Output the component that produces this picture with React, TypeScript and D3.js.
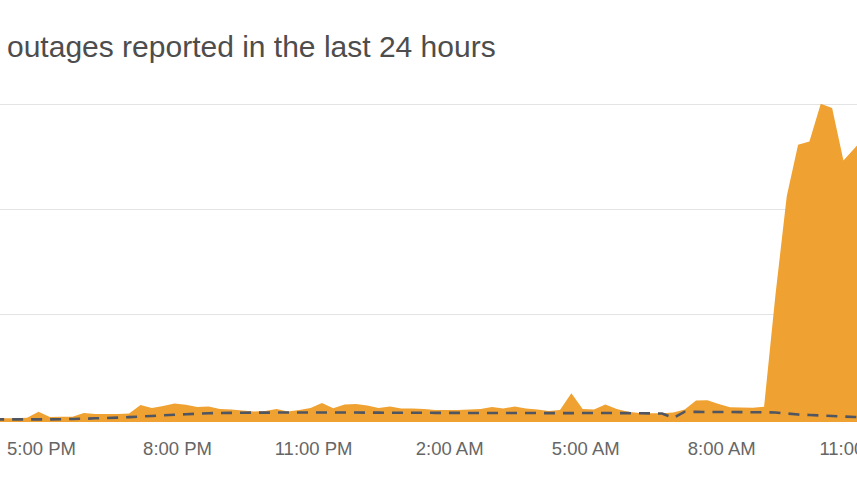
import React from "react";
import * as d3 from "d3";

// ---- data ----
const TITLE = "outages reported in the last 24 hours";
// first sample time and sampling step (minutes)
const firstSample = new Date(2024, 0, 1, 15, 56);
const stepMinutes = 15;

// reports per 15-minute sample (relative units; gridlines at 100/200/300)
const reports = [
  1, 1, 1, 1.5, 7.3, 2.3, 2.5, 2.5, 6, 5.1,
  5.1, 5, 5.6, 13.7, 10.8, 12.7, 15, 14, 11.8, 12.2,
  9.9, 9.4, 8.4, 7.5, 8, 9.9, 7.5, 8.9, 10.8, 15.6,
  10.5, 14.1, 14.6, 13.2, 10.8, 12.2, 10.3, 10.3, 9.9, 9,
  9, 9, 9.4, 9.9, 11.8, 10.3, 12.2, 10.3, 9.4, 7.9,
  9, 24.8, 9.9, 9.4, 14.1, 9.9, 7.3, 6.1, 5.8, 5.8,
  6.5, 9.4, 18, 18.1, 14.6, 11.5, 11.3, 11, 12, 118,
  212, 261, 264, 300, 296, 246, 258, 270,
];

// typical baseline (dashed line)
const baseline = [
  0, 0, 0, 0, 0, 0, 0.1, 0.4, 0.6, 1,
  1.3, 1.7, 2.1, 2.7, 3.2, 3.9, 4.4, 4.9, 5.4, 5.8,
  6.1, 6.2, 6.3, 6.4, 6.4, 6.5, 6.5, 6.5, 6.5, 6.5,
  6.5, 6.5, 6.5, 6.4, 6.4, 6.3, 6.3, 6.3, 6.3, 6.2,
  6.2, 6.2, 6.1, 6.1, 6.1, 6.1, 6.1, 6.0, 6.0, 5.9,
  5.9, 5.9, 6.0, 6.0, 6.0, 6.0, 5.9, 5.8, 5.7, 5.6,
  1.3, 7.3, 7.1, 7.0, 7.0, 7.0, 6.9, 6.8, 6.7, 6.5,
  5.6, 4.6, 4.2, 3.7, 3.2, 2.7, 2.2, 2.2,
];

const tickLabels = ["5:00 PM", "8:00 PM", "11:00 PM", "2:00 AM", "5:00 AM", "8:00 AM", "11:00 AM"];
const tickHours = [17, 20, 23, 26, 29, 32, 35];
const gridValues = [100, 200, 300];

const W = 857;
const H = 482;

export default function App() {
  const times = reports.map((_, i) => d3.timeMinute.offset(firstSample, i * stepMinutes));
  const day0 = new Date(2024, 0, 1, 0, 0);
  const tickTimes = tickHours.map((h) => d3.timeHour.offset(day0, h));

  const x = d3
    .scaleTime()
    .domain([tickTimes[0], tickTimes[tickTimes.length - 1]])
    .range([41.5, 41.5 + 18 * 45.35]);
  const y = d3.scaleLinear().domain([-2.5, 300]).range([422, 103.7]);

  const rows = reports.map((v, i) => ({ t: times[i], v, b: baseline[i] }));

  const area = d3
    .area<any>()
    .x((d) => x(d.t))
    .y0(y(-2.5))
    .y1((d) => y(d.v));
  const line = d3
    .line<any>()
    .x((d) => x(d.t))
    .y((d) => y(d.b));

  return (
    <svg
      width={W}
      height={H}
      style={{ position: "absolute", left: 0, top: 0, background: "#fff" }}
      fontFamily="'Liberation Sans', Arial, sans-serif"
    >
      <rect x={0} y={0} width={W} height={H} fill="#fff" />
      <text x={7} y={57} fontSize={30} fill="#4d4d4d">
        {TITLE}
      </text>
      {gridValues.map((g) => (
        <line key={g} x1={0} x2={W} y1={Math.round(y(g)) + 0.5} y2={Math.round(y(g)) + 0.5} stroke="#e3e3e3" strokeWidth={1} />
      ))}
      <path d={area(rows) || ""} fill="#EFA131" />
      <path d={line(rows) || ""} fill="none" stroke="#4f5561" strokeWidth={2.6} strokeDasharray="11 8" />
      {tickTimes.map((t, i) => (
        <text key={i} x={x(t)} y={455} textAnchor="middle" fontSize={18.5} fill="#666">
          {tickLabels[i]}
        </text>
      ))}
    </svg>
  );
}
